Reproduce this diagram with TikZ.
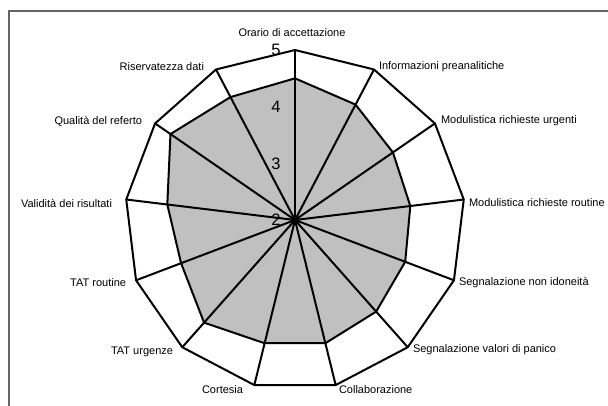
\documentclass[tikz,border=0pt]{standalone}
\usepackage{fontspec}
\setmainfont{Liberation Sans}
\usetikzlibrary{positioning}
\definecolor{grisArea}{RGB}{192,192,192}
\definecolor{grisCornice}{RGB}{100,100,100}
\tikzstyle{asse}     =[line width=1.5pt, black, line join=miter]
\tikzstyle{serie}    =[line width=1.5pt, black, fill=grisArea,
                       line join=miter]
\tikzstyle{etichetta}=[inner sep=1.5pt, outer sep=0pt,
                       font=\fontsize{8.25}{10}\selectfont]
\tikzstyle{scala}    =[inner sep=1pt, outer sep=0pt,
                       font=\fontsize{12.4}{14}\selectfont]

\begin{document}
\begin{tikzpicture}[x=0.75pt,y=0.75pt]
    \useasboundingbox (0,0) rectangle (608,405);
    \draw [grisCornice, line width=1.5pt] (9,-5) -- (9,394) -- (615,394);

    \begin{scope}[shift={(295,185)}]
        \coordinate (c) at (0,0);
        \foreach \i/\v in {0/4.50,1/4.30,2/4.10,3/4.05,4/4.08,5/4.16,6/4.24,
                           7/4.24,8/4.42,9/4.15,10/4.27,11/4.67,12/4.45}
        {
            \coordinate (o\i) at ({90-\i*360/13}:170);
            \coordinate (d\i) at ({90-\i*360/13}:{(\v-2)*170/3});
        }

        \fill [grisArea] (d0) \foreach \i in {1,...,12}{ -- (d\i)} -- cycle;
        \draw [asse] (o0) \foreach \i in {1,...,12}{ -- (o\i)} -- cycle;
        \foreach \i in {0,...,12}
            \draw [asse] (c) -- (o\i);
        \draw [serie, fill=none] (d0) \foreach \i in {1,...,12}{ -- (d\i)} -- cycle;

        \foreach \k in {2,...,5}
            \node [scala, anchor=east] (s\k) at (-13,{(\k-2)*170/3}) {\k};
    \end{scope}

    \foreach \i/\a/\x/\y/\testo in {
        0/center/292/372/Orario di accettazione,
        1/west/377/338/Informazioni preanalitiche,
        2/west/439/284/Modulistica richieste urgenti,
        3/west/467/202/Modulistica richieste routine,
        4/west/457/122/Segnalazione non idoneità,
        5/west/411/55/Segnalazione valori di panico,
        6/west/337/15/Collaborazione,
        7/east/245/15/Cortesia,
        8/east/175/53/TAT urgenze,
        9/east/128/122/TAT routine,
        10/east/114/201/Validità dei risultati,
        11/east/144/284/Qualità del referto,
        12/east/206/338/Riservatezza dati}
        \node [etichetta, anchor=\a] (l\i) at (\x,\y) {\testo};
\end{tikzpicture}
\end{document}
